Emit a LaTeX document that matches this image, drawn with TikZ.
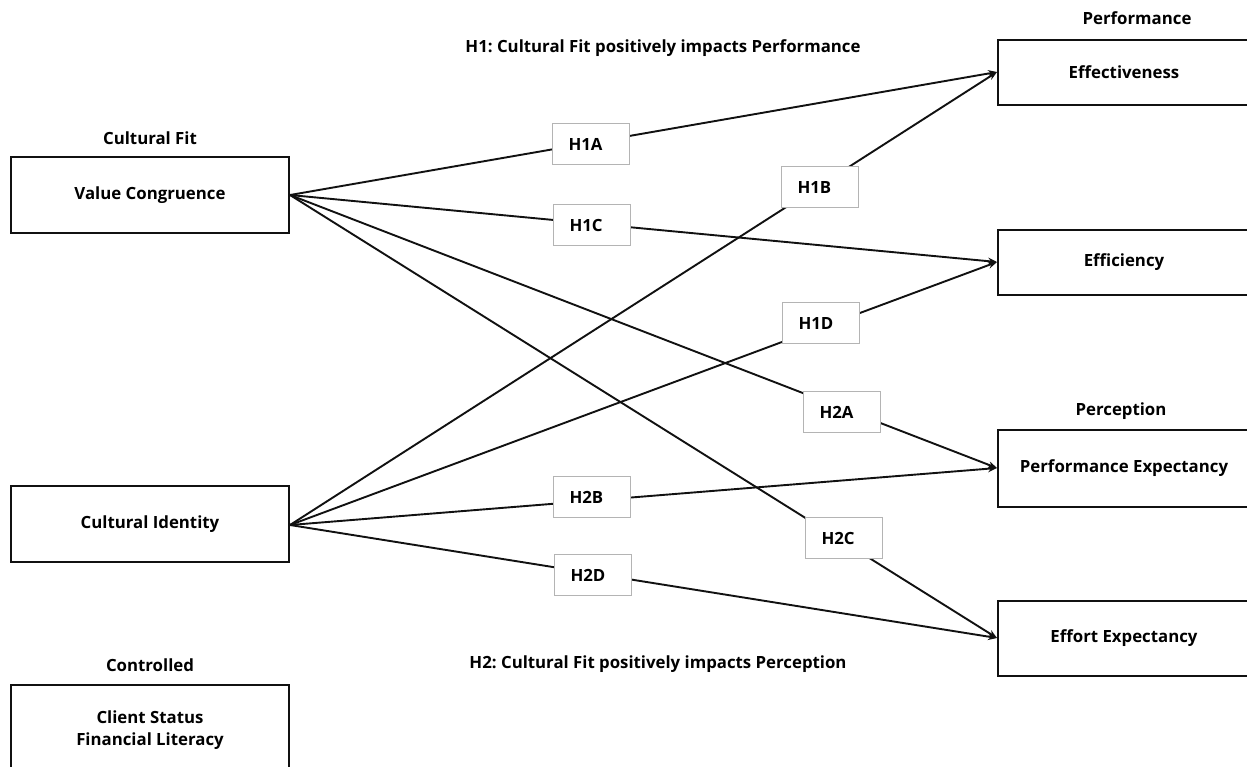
\documentclass[tikz,border=0pt]{standalone}
\usepackage{fontspec}
\setmainfont{Open Sans}
\usepackage{tikz}
\usetikzlibrary{
arrows.meta,
positioning
}
\frenchspacing
\definecolor{LineBlack}{HTML}{111111}
\definecolor{HypGray}{HTML}{B4B4B4}

\begin{document}
\begin{tikzpicture}[x=1pt,y=-1pt,>=Latex,
    every node/.style={font=\fontsize{16.8}{22}\selectfont\bfseries, align=center},
    factor/.style={draw=LineBlack, line width=2pt, fill=white, minimum width=278pt, inner sep=0pt},
    hyp/.style={draw=HypGray, line width=1pt, fill=white, minimum width=77pt, minimum height=41pt, text width=45pt, inner xsep=16pt, inner ysep=0pt, align=left},
    link/.style={-{Stealth[length=9pt,width=7pt]}, line width=1.9pt, LineBlack}]
        \useasboundingbox (0,0) rectangle (1247,766);
        \clip (0,0) rectangle (1247,766);
        % left side
        \node (cfit) at (150,138) {Cultural Fit};
        \node[factor, minimum height=76pt] (vc) at (150,195) {Value Congruence};
        \node[factor, minimum height=76pt] (ci) at (150,524) {Cultural Identity};
        \node (ctrl) at (150,665) {Controlled};
        \node[factor, minimum height=90pt] (cs) at (150,730) {Client Status\\Financial Literacy};
        % right side
        \node (perf) at (1137,18) {Performance};
        \node[factor, minimum width=252pt, minimum height=65pt] (eff) at (1124,72) {Effectiveness};
        \node[factor, minimum width=252pt, minimum height=65pt] (effi) at (1124,262) {Efficiency};
        \node (perc) at (1121,411) {Perception};
        \node[factor, minimum width=252pt, minimum height=77pt] (pexp) at (1124,468) {Performance Expectancy};
        \node[factor, minimum width=252pt, minimum height=75pt] (eexp) at (1124,638) {Effort Expectancy};
        % hypotheses captions
        \node (h1) at (663,48) {H1: Cultural Fit positively impacts Performance};
        \node (h2) at (658,664) {H2: Cultural Fit positively impacts Perception};
        % paths
        \draw[link] (vc.east) -- (eff.west);
        \draw[link] (vc.east) -- (effi.west);
        \draw[link] (vc.east) -- (pexp.west);
        \draw[link] (vc.east) -- (eexp.west);
        \draw[link] ([yshift=-1pt]ci.east) -- (eff.west);
        \draw[link] ([yshift=-1pt]ci.east) -- (effi.west);
        \draw[link] ([yshift=-1pt]ci.east) -- (pexp.west);
        \draw[link] ([yshift=-1pt]ci.east) -- (eexp.west);
        % path labels
        \node[hyp] (h1a) at (591,144) {H1A};
        \node[hyp] (h1b) at (820,187) {H1B};
        \node[hyp] (h1c) at (592,225) {H1C};
        \node[hyp] (h1d) at (821,323) {H1D};
        \node[hyp] (h2a) at (842,412) {H2A};
        \node[hyp] (h2b) at (592,497) {H2B};
        \node[hyp] (h2c) at (844,538) {H2C};
        \node[hyp] (h2d) at (593,575) {H2D};
    \end{tikzpicture}
\end{document}
